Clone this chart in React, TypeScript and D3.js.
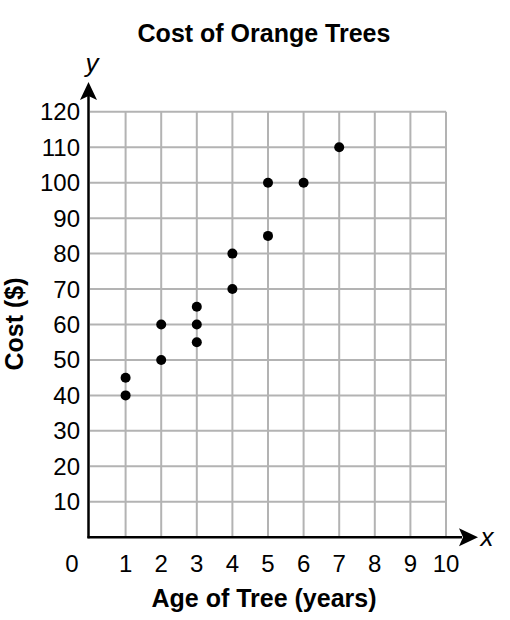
import React from "react";
import * as d3 from "d3";

const xTicks = [1, 2, 3, 4, 5, 6, 7, 8, 9, 10];
const yTicks = [10, 20, 30, 40, 50, 60, 70, 80, 90, 100, 110, 120];
const ages = [1, 1, 2, 2, 3, 3, 3, 4, 4, 5, 5, 6, 7];
const costs = [40, 45, 50, 60, 55, 60, 65, 70, 80, 85, 100, 100, 110];
const title = "Cost of Orange Trees";
const xTitle = "Age of Tree (years)";
const yTitle = "Cost ($)";

export default function App() {
  const W = 510, H = 620;
  const x = d3.scaleLinear().domain([0, 10]).range([90, 446]);
  const y = d3.scaleLinear().domain([0, 120]).range([537.2, 111.8]);
  const font = "'Liberation Sans', Arial, sans-serif";
  const grid = "#b3b3b3";
  return (
    <svg width={W} height={H} style={{ position: "absolute", left: 0, top: 0, background: "#fff" }} fontFamily={font}>
      <text x={264} y={42} textAnchor="middle" fontSize={25} fontWeight="bold">{title}</text>
      {xTicks.map((t) => (
        <line key={"gx" + t} x1={x(t)} x2={x(t)} y1={y(120)} y2={y(0)} stroke={grid} strokeWidth={2} />
      ))}
      {yTicks.map((t) => (
        <line key={"gy" + t} x1={x(0)} x2={x(10)} y1={y(t)} y2={y(t)} stroke={grid} strokeWidth={2} />
      ))}
      <line x1={x(0) - 1.5} x2={x(0) - 1.5} y1={y(0) + 1} y2={96} stroke="#000" strokeWidth={2.5} />
      <line x1={x(0) - 2.5} x2={462} y1={y(0)} y2={y(0)} stroke="#000" strokeWidth={2.5} />
      <path d={`M${x(0) - 1.5},82 L${x(0) - 10},100 L${x(0) - 1.5},96 L${x(0) + 7},100 Z`} fill="#000" />
      <path d={`M478,${y(0)} L459,${y(0) - 9} L463,${y(0)} L459,${y(0) + 9} Z`} fill="#000" />
      <text x={x(0) + 2} y={72} textAnchor="middle" fontSize={26} fontStyle="italic">y</text>
      <text x={487} y={546} textAnchor="middle" fontSize={26} fontStyle="italic">x</text>
      {yTicks.map((t) => (
        <text key={"ly" + t} x={80} y={y(t) + 8.5} textAnchor="end" fontSize={24}>{t}</text>
      ))}
      <text x={72} y={572} textAnchor="middle" fontSize={24}>0</text>
      {xTicks.map((t) => (
        <text key={"lx" + t} x={x(t)} y={572} textAnchor="middle" fontSize={24}>{t}</text>
      ))}
      <text x={264} y={607} textAnchor="middle" fontSize={25} fontWeight="bold">{xTitle}</text>
      <text transform={`translate(23,324) rotate(-90)`} textAnchor="middle" fontSize={25} fontWeight="bold">{yTitle}</text>
      {ages.map((a, i) => (
        <circle key={"p" + i} cx={x(a)} cy={y(costs[i])} r={5} fill="#000" />
      ))}
    </svg>
  );
}
